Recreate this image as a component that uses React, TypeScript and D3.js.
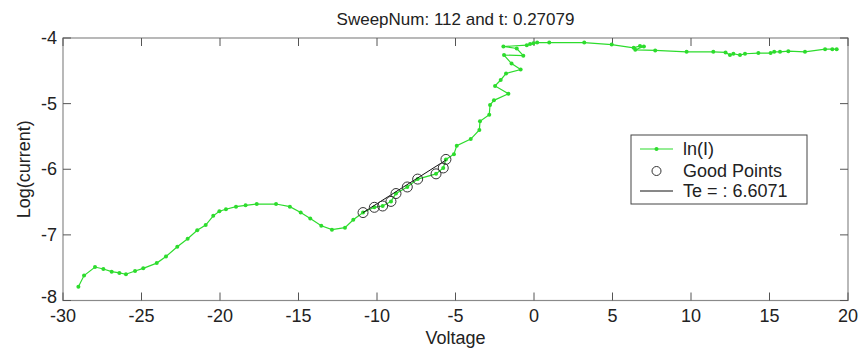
import React from "react";
import * as d3 from "d3";

const voltage = [
  -29.02, -28.66, -27.96, -27.43, -26.9, -26.41, -25.99, -25.41, -24.89, -24.03, -23.44, -22.72, -22.06, -21.45,
  -20.91, -20.43, -20.04, -19.62, -18.98, -18.37, -17.66, -16.43, -15.55, -14.86, -14.25, -13.55, -12.87, -12.04,
  -11.51, -10.89, -10.17, -9.64, -9.11, -8.79, -8.07, -7.41, -6.24, -5.78, -5.61, -5.1, -4.92, -4.03, -3.48, -3.44,
  -2.85, -2.8, -2.55, -1.63, -2.48, -2.12, -1.78, -0.85, -1.43, -1.91, -0.68, -1.1, -1.95, -0.46, -0.25, -0.04, 0.2,
  0.97, 3.2, 4.95, 6.35, 6.75, 7.0, 6.45, 7.72, 9.72, 11.42, 12.2, 12.48, 12.7, 13.12, 13.44, 14.29, 15.07, 15.3,
  15.67, 16.2, 17.26, 18.54, 19.0, 19.28,
];
const logCurrent = [
  -7.79, -7.62, -7.49, -7.52, -7.56, -7.58, -7.6, -7.55, -7.51, -7.43, -7.33, -7.18, -7.06, -6.93, -6.85, -6.71,
  -6.64, -6.61, -6.57, -6.55, -6.53, -6.53, -6.57, -6.66, -6.75, -6.86, -6.92, -6.89, -6.77, -6.66, -6.58, -6.56,
  -6.49, -6.37, -6.27, -6.15, -6.07, -5.98, -5.85, -5.77, -5.64, -5.54, -5.4, -5.27, -5.17, -5.02, -4.95, -4.85,
  -4.73, -4.64, -4.54, -4.48, -4.39, -4.26, -4.27, -4.16, -4.13, -4.11, -4.09, -4.08, -4.07, -4.07, -4.07, -4.1,
  -4.15, -4.12, -4.13, -4.18, -4.19, -4.21, -4.21, -4.22, -4.26, -4.24, -4.26, -4.24, -4.23, -4.23, -4.21, -4.21,
  -4.2, -4.21, -4.17, -4.17, -4.17,
];
const goodV = [-10.89, -10.17, -9.64, -9.11, -8.79, -8.07, -7.41, -6.24, -5.78, -5.61];
const goodL = [-6.66, -6.58, -6.56, -6.49, -6.37, -6.27, -6.15, -6.07, -5.98, -5.85];
const fitV = [-10.89, -5.61];
const fitL = [-6.66, -5.86];
const xTicks = [-30, -25, -20, -15, -10, -5, 0, 5, 10, 15, 20];
const yTicks = [-8, -7, -6, -5, -4];
const legendLabels = ["ln(I)", "Good Points", "Te = : 6.6071"];
const title = "SweepNum: 112 and t: 0.27079";

const W = 860, H = 349;
const L = 63, R = 848, T = 38, B = 300.5;
const FONT = "'Liberation Sans', Arial, sans-serif";
const GREEN = "#2ddc2d";

export default function App() {
  const x = d3.scaleLinear().domain([-30, 20]).range([L, R]);
  const y = d3.scaleLinear().domain([-8, -4]).range([B, T]);
  const pts = voltage.map((v, i) => [v, logCurrent[i]] as [number, number]);
  const line = d3.line<[number, number]>().x(d => x(d[0])).y(d => y(d[1]));
  const fit = fitV.map((v, i) => [v, fitL[i]] as [number, number]);
  const tl = 8;
  const lgX = 631, lgY = 135, lgW = 176, lgH = 69;
  const rowY = [149, 171, 191];
  return (
    <div style={{ position: "absolute", left: 0, top: 0 }}>
      <svg width={W} height={H} style={{ display: "block", background: "#fff" }} fontFamily={FONT}>
        <rect x={0} y={0} width={W} height={H} fill="#fff" />
        <text x={(L + R) / 2} y={25} textAnchor="middle" fontSize={17} fill="#222">{title}</text>
        <rect x={L} y={T} width={R - L} height={B - T} fill="#fff" stroke="#8a8a8a" strokeWidth={1.2} />
        {xTicks.map(t => (
          <g key={"x" + t}>
            <line x1={x(t)} x2={x(t)} y1={B} y2={B - tl} stroke="#555" />
            <line x1={x(t)} x2={x(t)} y1={T} y2={T + tl} stroke="#555" />
            <text x={x(t)} y={322} textAnchor="middle" fontSize={18} fill="#222">{t}</text>
          </g>
        ))}
        {yTicks.map(t => (
          <g key={"y" + t}>
            <line x1={L} x2={L + tl} y1={y(t)} y2={y(t)} stroke="#555" />
            <line x1={R} x2={R - tl} y1={y(t)} y2={y(t)} stroke="#555" />
            <text x={57} y={y(t) + (t === -8 ? 2 : 6)} textAnchor="end" fontSize={18} fill="#222">{t}</text>
          </g>
        ))}
        <text x={(L + R) / 2} y={344} textAnchor="middle" fontSize={18} fill="#222">Voltage</text>
        <text transform={`translate(30,${(T + B) / 2}) rotate(-90)`} textAnchor="middle" fontSize={18} fill="#222">Log(current)</text>
        <path d={line(pts) || ""} fill="none" stroke={GREEN} strokeWidth={1.2} />
        {pts.map((p, i) => (
          <circle key={"p" + i} cx={x(p[0])} cy={y(p[1])} r={2} fill={GREEN} />
        ))}
        <path d={line(fit) || ""} fill="none" stroke="#111" strokeWidth={1} />
        {goodV.map((v, i) => (
          <circle key={"g" + i} cx={x(v)} cy={y(goodL[i])} r={5} fill="none" stroke="#333" strokeWidth={1} />
        ))}
        <rect x={lgX} y={lgY} width={lgW} height={lgH} fill="#fff" stroke="#444" strokeWidth={1} />
        <line x1={640} x2={673} y1={rowY[0]} y2={rowY[0]} stroke={GREEN} strokeWidth={1.2} />
        <circle cx={656.5} cy={rowY[0]} r={2} fill={GREEN} />
        <circle cx={656.5} cy={rowY[1]} r={4.5} fill="none" stroke="#333" />
        <line x1={640} x2={673} y1={rowY[2]} y2={rowY[2]} stroke="#111" />
        {legendLabels.map((s, i) => (
          <text key={s} x={683} y={rowY[i] + 6} fontSize={18} fill="#222">{s}</text>
        ))}
      </svg>
    </div>
  );
}
